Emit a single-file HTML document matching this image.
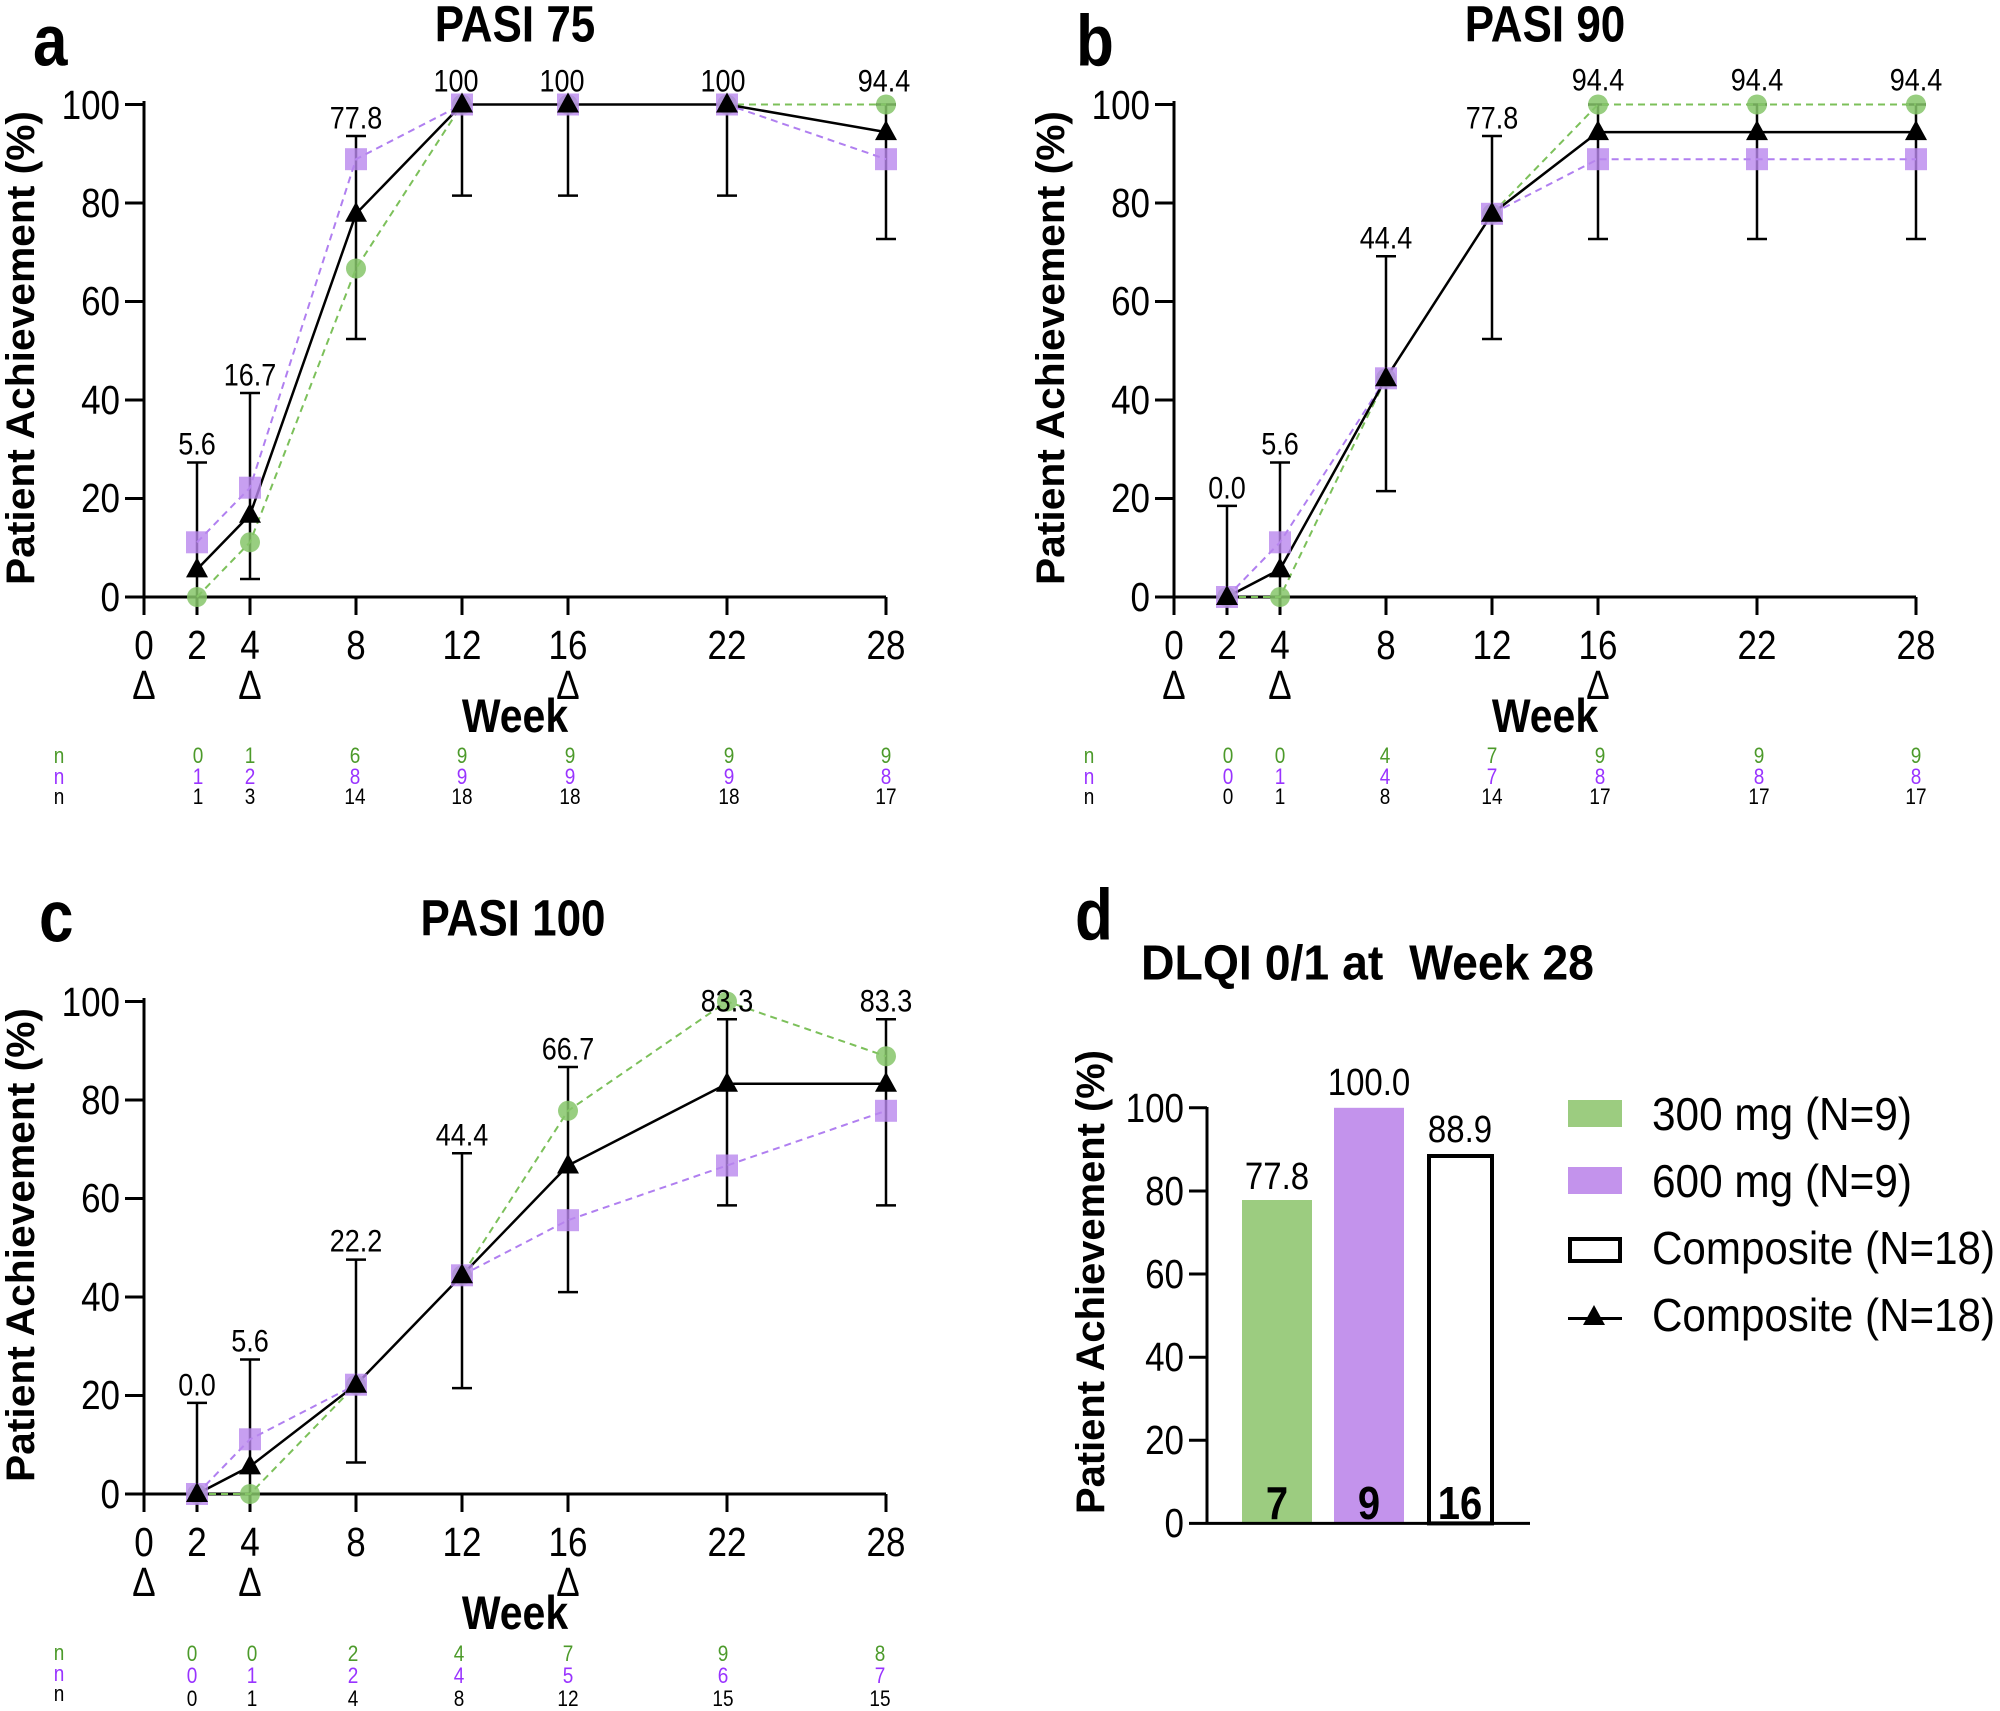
<!DOCTYPE html>
<html><head><meta charset="utf-8"><style>
html,body{margin:0;padding:0;background:#fff}
svg{display:block;font-family:"Liberation Sans",Arial,sans-serif}
svg text:not(.rot){transform-box:fill-box;transform-origin:center;transform:scaleY(1.16)}
.tk{font-size:35px}
.dl{font-size:27px;text-anchor:middle}
.nr{font-size:19px;text-anchor:middle}
.b{font-weight:bold}
</style></head><body>
<svg width="2000" height="1711" viewBox="0 0 2000 1711" xmlns="http://www.w3.org/2000/svg">
<defs>
<path id="tri" d="M0,-12 L-11,8 L11,8 Z" fill="#000"/>
<circle id="cir" r="10" fill="#86c56a" fill-opacity="0.85"/>
<rect id="sq" x="-11" y="-11" width="22" height="22" fill="#b987ee" fill-opacity="0.8"/>
<g id="axes">
<g stroke="#000" stroke-width="3" fill="none">
<line x1="144" y1="101" x2="144" y2="598"/>
<line x1="143" y1="597" x2="886" y2="597"/>
<line x1="125" y1="104.5" x2="144" y2="104.5"/><line x1="125" y1="203" x2="144" y2="203"/><line x1="125" y1="301.5" x2="144" y2="301.5"/><line x1="125" y1="400" x2="144" y2="400"/><line x1="125" y1="498.5" x2="144" y2="498.5"/><line x1="125" y1="597" x2="144" y2="597"/>
<line x1="144" y1="597" x2="144" y2="615"/><line x1="197" y1="597" x2="197" y2="615"/><line x1="250" y1="597" x2="250" y2="615"/><line x1="356" y1="597" x2="356" y2="615"/><line x1="462" y1="597" x2="462" y2="615"/><line x1="568" y1="597" x2="568" y2="615"/><line x1="727" y1="597" x2="727" y2="615"/><line x1="886" y1="597" x2="886" y2="615"/>
</g>
<g class="tk" text-anchor="end">
<text x="120" y="117">100</text><text x="120" y="215">80</text><text x="120" y="313">60</text><text x="120" y="412">40</text><text x="120" y="510">20</text><text x="120" y="609">0</text>
</g>
<g class="tk" text-anchor="middle">
<text x="144" y="657">0</text><text x="197" y="657">2</text><text x="250" y="657">4</text><text x="356" y="657">8</text><text x="462" y="657">12</text><text x="568" y="657">16</text><text x="727" y="657">22</text><text x="886" y="657">28</text>
<text x="144" y="697">Δ</text><text x="250" y="697">Δ</text><text x="568" y="697">Δ</text>
</g>
<text x="515" y="730" class="b" font-size="41" text-anchor="middle">Week</text>
<text x="34" y="348" class="b rot" font-size="40" text-anchor="middle" textLength="474" lengthAdjust="spacingAndGlyphs" transform="rotate(-90 34 348)">Patient Achievement (%)</text>
<g class="nr"><text x="59" y="762" fill="#4c9a2a">n</text><text x="59" y="783" fill="#9933ff">n</text><text x="59" y="803">n</text></g>
</g>
</defs>

<!-- Panel a -->
<g>
<use href="#axes"/>
<text x="515" y="39" class="b" font-size="44" text-anchor="middle">PASI 75</text>
<text x="33" y="62" class="b" font-size="62">a</text>
<g stroke="#000" stroke-width="2.5">
<line x1="197" y1="462.5" x2="197" y2="597"/><line x1="187" y1="462.5" x2="207" y2="462.5"/>
<line x1="250" y1="393" x2="250" y2="579"/><line x1="240" y1="393" x2="260" y2="393"/><line x1="240" y1="579" x2="260" y2="579"/>
<line x1="356" y1="136" x2="356" y2="339"/><line x1="346" y1="136" x2="366" y2="136"/><line x1="346" y1="339" x2="366" y2="339"/>
<line x1="462" y1="104.5" x2="462" y2="195.6"/><line x1="452" y1="195.6" x2="472" y2="195.6"/>
<line x1="568" y1="104.5" x2="568" y2="195.6"/><line x1="558" y1="195.6" x2="578" y2="195.6"/>
<line x1="727" y1="104.5" x2="727" y2="195.6"/><line x1="717" y1="195.6" x2="737" y2="195.6"/>
<line x1="886" y1="104.5" x2="886" y2="239"/><line x1="876" y1="239" x2="896" y2="239"/><line x1="876" y1="104.5" x2="896" y2="104.5"/>
</g>
<polyline fill="none" stroke="#7cc05a" stroke-width="2" stroke-dasharray="7,5" points="197,597 250,542.3 356,268.5 462,104.5 568,104.5 727,104.5 886,104.5"/>
<polyline fill="none" stroke="#b07ff0" stroke-width="2" stroke-dasharray="7,5" points="197,542.3 250,487.7 356,159.2 462,104.5 568,104.5 727,104.5 886,159.2"/>
<polyline fill="none" stroke="#000" stroke-width="2.5" points="197,569.4 250,514.8 356,213.8 462,104.5 568,104.5 727,104.5 886,132.1"/>
<use href="#cir" x="197" y="597"/><use href="#cir" x="250" y="542.3"/><use href="#cir" x="356" y="268.5"/><use href="#cir" x="462" y="104.5"/><use href="#cir" x="568" y="104.5"/><use href="#cir" x="727" y="104.5"/><use href="#cir" x="886" y="104.5"/>
<use href="#sq" x="197" y="542.3"/><use href="#sq" x="250" y="487.7"/><use href="#sq" x="356" y="159.2"/><use href="#sq" x="462" y="104.5"/><use href="#sq" x="568" y="104.5"/><use href="#sq" x="727" y="104.5"/><use href="#sq" x="886" y="159.2"/>
<use href="#tri" x="197" y="569.4"/><use href="#tri" x="250" y="514.8"/><use href="#tri" x="356" y="213.8"/><use href="#tri" x="462" y="104.5"/><use href="#tri" x="568" y="104.5"/><use href="#tri" x="727" y="104.5"/><use href="#tri" x="886" y="132.1"/>
<g class="dl"><text x="197" y="453">5.6</text><text x="250" y="384">16.7</text><text x="356" y="127">77.8</text><text x="456" y="90">100</text><text x="562" y="90">100</text><text x="723" y="90">100</text><text x="884" y="90">94.4</text></g>
<g class="nr" fill="#4c9a2a"><text x="198" y="762">0</text><text x="250" y="762">1</text><text x="355" y="762">6</text><text x="462" y="762">9</text><text x="570" y="762">9</text><text x="729" y="762">9</text><text x="886" y="762">9</text></g>
<g class="nr" fill="#9933ff"><text x="198" y="783">1</text><text x="250" y="783">2</text><text x="355" y="783">8</text><text x="462" y="783">9</text><text x="570" y="783">9</text><text x="729" y="783">9</text><text x="886" y="783">8</text></g>
<g class="nr"><text x="198" y="803">1</text><text x="250" y="803">3</text><text x="355" y="803">14</text><text x="462" y="803">18</text><text x="570" y="803">18</text><text x="729" y="803">18</text><text x="886" y="803">17</text></g>
</g>

<!-- Panel b -->
<g transform="translate(1030,0)">
<use href="#axes"/>
<text x="515" y="39" class="b" font-size="44" text-anchor="middle">PASI 90</text>
<text x="46" y="62" class="b" font-size="62">b</text>
<g stroke="#000" stroke-width="2.5">
<line x1="197" y1="505.9" x2="197" y2="597"/><line x1="187" y1="505.9" x2="207" y2="505.9"/>
<line x1="250" y1="462.5" x2="250" y2="597"/><line x1="240" y1="462.5" x2="260" y2="462.5"/>
<line x1="356" y1="256.2" x2="356" y2="491.1"/><line x1="346" y1="256.2" x2="366" y2="256.2"/><line x1="346" y1="491.1" x2="366" y2="491.1"/>
<line x1="462" y1="136" x2="462" y2="339"/><line x1="452" y1="136" x2="472" y2="136"/><line x1="452" y1="339" x2="472" y2="339"/>
<line x1="568" y1="104.5" x2="568" y2="239"/><line x1="558" y1="239" x2="578" y2="239"/><line x1="558" y1="104.5" x2="578" y2="104.5"/>
<line x1="727" y1="104.5" x2="727" y2="239"/><line x1="717" y1="239" x2="737" y2="239"/><line x1="717" y1="104.5" x2="737" y2="104.5"/>
<line x1="886" y1="104.5" x2="886" y2="239"/><line x1="876" y1="239" x2="896" y2="239"/><line x1="876" y1="104.5" x2="896" y2="104.5"/>
</g>
<polyline fill="none" stroke="#7cc05a" stroke-width="2" stroke-dasharray="7,5" points="197,597 250,597 356,378.3 462,213.8 568,104.5 727,104.5 886,104.5"/>
<polyline fill="none" stroke="#b07ff0" stroke-width="2" stroke-dasharray="7,5" points="197,597 250,542.3 356,378.3 462,213.8 568,159.2 727,159.2 886,159.2"/>
<polyline fill="none" stroke="#000" stroke-width="2.5" points="197,597 250,569.4 356,378.3 462,213.8 568,132.1 727,132.1 886,132.1"/>
<use href="#cir" x="197" y="597"/><use href="#cir" x="250" y="597"/><use href="#cir" x="356" y="378.3"/><use href="#cir" x="462" y="213.8"/><use href="#cir" x="568" y="104.5"/><use href="#cir" x="727" y="104.5"/><use href="#cir" x="886" y="104.5"/>
<use href="#sq" x="197" y="597"/><use href="#sq" x="250" y="542.3"/><use href="#sq" x="356" y="378.3"/><use href="#sq" x="462" y="213.8"/><use href="#sq" x="568" y="159.2"/><use href="#sq" x="727" y="159.2"/><use href="#sq" x="886" y="159.2"/>
<use href="#tri" x="197" y="597"/><use href="#tri" x="250" y="569.4"/><use href="#tri" x="356" y="378.3"/><use href="#tri" x="462" y="213.8"/><use href="#tri" x="568" y="132.1"/><use href="#tri" x="727" y="132.1"/><use href="#tri" x="886" y="132.1"/>
<g class="dl"><text x="197" y="497">0.0</text><text x="250" y="453">5.6</text><text x="356" y="247">44.4</text><text x="462" y="127">77.8</text><text x="568" y="89">94.4</text><text x="727" y="89">94.4</text><text x="886" y="89">94.4</text></g>
<g class="nr" fill="#4c9a2a"><text x="198" y="762">0</text><text x="250" y="762">0</text><text x="355" y="762">4</text><text x="462" y="762">7</text><text x="570" y="762">9</text><text x="729" y="762">9</text><text x="886" y="762">9</text></g>
<g class="nr" fill="#9933ff"><text x="198" y="783">0</text><text x="250" y="783">1</text><text x="355" y="783">4</text><text x="462" y="783">7</text><text x="570" y="783">8</text><text x="729" y="783">8</text><text x="886" y="783">8</text></g>
<g class="nr"><text x="198" y="803">0</text><text x="250" y="803">1</text><text x="355" y="803">8</text><text x="462" y="803">14</text><text x="570" y="803">17</text><text x="729" y="803">17</text><text x="886" y="803">17</text></g>
</g>

<!-- Panel c -->
<g transform="translate(0,897)">
<use href="#axes"/>
<text x="513" y="36" class="b" font-size="44" text-anchor="middle">PASI 100</text>
<text x="39" y="41" class="b" font-size="62">c</text>
<g stroke="#000" stroke-width="2.5">
<line x1="197" y1="505.9" x2="197" y2="597"/><line x1="187" y1="505.9" x2="207" y2="505.9"/>
<line x1="250" y1="462.5" x2="250" y2="597"/><line x1="240" y1="462.5" x2="260" y2="462.5"/>
<line x1="356" y1="362.6" x2="356" y2="565.5"/><line x1="346" y1="362.6" x2="366" y2="362.6"/><line x1="346" y1="565.5" x2="366" y2="565.5"/>
<line x1="462" y1="256.2" x2="462" y2="491.1"/><line x1="452" y1="256.2" x2="472" y2="256.2"/><line x1="452" y1="491.1" x2="472" y2="491.1"/>
<line x1="568" y1="170" x2="568" y2="395.1"/><line x1="558" y1="170" x2="578" y2="170"/><line x1="558" y1="395.1" x2="578" y2="395.1"/>
<line x1="727" y1="122.2" x2="727" y2="308.4"/><line x1="717" y1="122.2" x2="737" y2="122.2"/><line x1="717" y1="308.4" x2="737" y2="308.4"/>
<line x1="886" y1="122.2" x2="886" y2="308.4"/><line x1="876" y1="122.2" x2="896" y2="122.2"/><line x1="876" y1="308.4" x2="896" y2="308.4"/>
</g>
<polyline fill="none" stroke="#7cc05a" stroke-width="2" stroke-dasharray="7,5" points="197,597 250,597 356,487.7 462,378.3 568,213.8 727,104.5 886,159.2"/>
<polyline fill="none" stroke="#b07ff0" stroke-width="2" stroke-dasharray="7,5" points="197,597 250,542.3 356,487.7 462,378.3 568,323.2 727,268.5 886,213.8"/>
<polyline fill="none" stroke="#000" stroke-width="2.5" points="197,597 250,569.4 356,487.7 462,378.3 568,268.5 727,186.8 886,186.8"/>
<use href="#cir" x="197" y="597"/><use href="#cir" x="250" y="597"/><use href="#cir" x="356" y="487.7"/><use href="#cir" x="462" y="378.3"/><use href="#cir" x="568" y="213.8"/><use href="#cir" x="727" y="104.5"/><use href="#cir" x="886" y="159.2"/>
<use href="#sq" x="197" y="597"/><use href="#sq" x="250" y="542.3"/><use href="#sq" x="356" y="487.7"/><use href="#sq" x="462" y="378.3"/><use href="#sq" x="568" y="323.2"/><use href="#sq" x="727" y="268.5"/><use href="#sq" x="886" y="213.8"/>
<use href="#tri" x="197" y="597"/><use href="#tri" x="250" y="569.4"/><use href="#tri" x="356" y="487.7"/><use href="#tri" x="462" y="378.3"/><use href="#tri" x="568" y="268.5"/><use href="#tri" x="727" y="186.8"/><use href="#tri" x="886" y="186.8"/>
<g class="dl"><text x="197" y="497">0.0</text><text x="250" y="453">5.6</text><text x="356" y="353">22.2</text><text x="462" y="247">44.4</text><text x="568" y="161">66.7</text><text x="727" y="113">83.3</text><text x="886" y="113">83.3</text></g>
<g class="nr" fill="#4c9a2a"><text x="192" y="763">0</text><text x="252" y="763">0</text><text x="353" y="763">2</text><text x="459" y="763">4</text><text x="568" y="763">7</text><text x="723" y="763">9</text><text x="880" y="763">8</text></g>
<g class="nr" fill="#9933ff"><text x="192" y="785">0</text><text x="252" y="785">1</text><text x="353" y="785">2</text><text x="459" y="785">4</text><text x="568" y="785">5</text><text x="723" y="785">6</text><text x="880" y="785">7</text></g>
<g class="nr"><text x="192" y="808">0</text><text x="252" y="808">1</text><text x="353" y="808">4</text><text x="459" y="808">8</text><text x="568" y="808">12</text><text x="723" y="808">15</text><text x="880" y="808">15</text></g>
</g>

<!-- Panel d -->
<g>
<text x="1075" y="936" class="b" font-size="62">d</text>
<text x="1141" y="977" class="b" font-size="42" textLength="453" lengthAdjust="spacingAndGlyphs" xml:space="preserve">DLQI 0/1 at  Week 28</text>
<text x="1104" y="1282" class="b rot" font-size="40" text-anchor="middle" textLength="464" lengthAdjust="spacingAndGlyphs" transform="rotate(-90 1104 1282)">Patient Achievement (%)</text>
<rect x="1242" y="1200" width="70" height="323.4" fill="#9ccc80"/>
<rect x="1334" y="1107.8" width="70" height="415.6" fill="#c393ec"/>
<rect x="1429" y="1156" width="63" height="367.4" fill="#fff" stroke="#000" stroke-width="4"/>
<g stroke="#000" stroke-width="3">
<line x1="1207" y1="1107" x2="1207" y2="1524"/>
<line x1="1189" y1="1523.4" x2="1530" y2="1523.4"/>
<line x1="1189" y1="1107.8" x2="1207" y2="1107.8"/><line x1="1189" y1="1191" x2="1207" y2="1191"/><line x1="1189" y1="1274" x2="1207" y2="1274"/><line x1="1189" y1="1357.2" x2="1207" y2="1357.2"/><line x1="1189" y1="1440.3" x2="1207" y2="1440.3"/>
</g>
<g class="tk" text-anchor="end">
<text x="1184" y="1120">100</text><text x="1184" y="1203">80</text><text x="1184" y="1286">60</text><text x="1184" y="1369">40</text><text x="1184" y="1452">20</text><text x="1184" y="1535">0</text>
</g>
<g font-size="33" text-anchor="middle"><text x="1277" y="1187">77.8</text><text x="1369" y="1093">100.0</text><text x="1460" y="1140">88.9</text></g>
<g class="b" font-size="40" text-anchor="middle"><text x="1277" y="1517">7</text><text x="1369" y="1517">9</text><text x="1460" y="1517">16</text></g>
<rect x="1568" y="1100" width="54" height="27" fill="#9ccc80"/>
<rect x="1568" y="1167" width="54" height="27" fill="#c393ec"/>
<rect x="1570" y="1239" width="50" height="22" fill="#fff" stroke="#000" stroke-width="4"/>
<line x1="1568" y1="1318.5" x2="1622" y2="1318.5" stroke="#000" stroke-width="3"/>
<use href="#tri" x="1594" y="1317"/>
<g font-size="40">
<text x="1652" y="1128" textLength="260" lengthAdjust="spacingAndGlyphs">300 mg (N=9)</text>
<text x="1652" y="1195" textLength="260" lengthAdjust="spacingAndGlyphs">600 mg (N=9)</text>
<text x="1652" y="1262" textLength="343" lengthAdjust="spacingAndGlyphs">Composite (N=18)</text>
<text x="1652" y="1329" textLength="343" lengthAdjust="spacingAndGlyphs">Composite (N=18)</text>
</g>
</g>
</svg>
</body></html>
